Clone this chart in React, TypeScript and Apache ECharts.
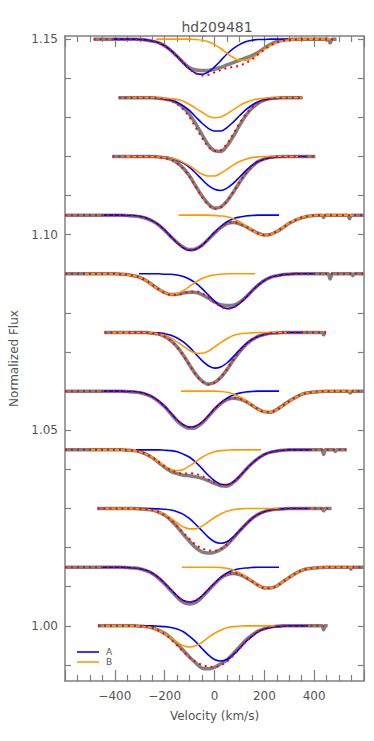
import React, { useEffect, useRef } from 'react';
import * as echarts from 'echarts';

// Velocity grid step (km/s) used by every sampled depth list below.
const STEP = 25;

// Continuum level of each stacked profile (top to bottom).
const CONTINUUM = [1.15, 1.135, 1.12, 1.105, 1.09, 1.075, 1.06, 1.045, 1.03, 1.015, 1.0];

// Velocity span of each observed spectrum and of each drawn component (km/s).
const OBS_RANGE = [[-485, 490], [-385, 353], [-410, 405], [-600, 600], [-600, 600], [-442, 448], [-600, 600], [-600, 530], [-470, 470], [-600, 600], [-468, 454]];
const A_RANGE = [[-405, 295], [-340, 353], [-330, 370], [-445, 259], [-303, 405], [-345, 355], [-445, 259], [-315, 390], [-310, 375], [-450, 259], [-300, 376]];
const B_RANGE = [[-234, 465], [-345, 353], [-365, 335], [-144, 555], [-520, 163], [-410, 290], [-135, 565], [-500, 187], [-440, 259], [-131, 565], [-450, 242]];

// Depths below the continuum, in units of 0.001 flux, sampled every STEP km/s from *_START.
const OBS_START = [-300, -225, -225, -350, -375, -250, -350, -350, -300, -350, -300];
const OBS_DEPTH = [
  [0.1, 0.2, 0.5, 0.9, 1.7, 2.9, 4.4, 6.0, 7.3, 7.9, 8.0, 8.0, 7.7, 7.2, 6.6, 6.0, 5.4, 4.8, 4.2, 3.4, 2.3, 1.3, 0.6, 0.3, 0.1],
  [0.1, 0.3, 0.6, 1.3, 2.5, 4.3, 6.7, 9.4, 12.0, 13.5, 13.7, 12.3, 9.9, 7.1, 4.6, 2.7, 1.4, 0.6, 0.2, 0.1],
  [0.1, 0.3, 0.7, 1.6, 3.0, 5.0, 7.6, 10.1, 12.1, 13.2, 12.9, 11.4, 9.2, 6.7, 4.4, 2.6, 1.3, 0.6, 0.2, 0.1],
  [0.1, 0.2, 0.4, 0.8, 1.5, 2.5, 3.9, 5.5, 7.0, 8.2, 8.8, 8.6, 7.7, 6.2, 4.6, 3.2, 2.2, 1.9, 2.2, 2.9, 3.8, 4.6, 5.1, 4.9, 4.2, 3.2, 2.1, 1.3, 0.7, 0.3, 0.1],
  [0.1, 0.2, 0.5, 0.9, 1.7, 2.8, 3.9, 4.8, 5.3, 5.2, 4.9, 4.7, 4.8, 5.3, 6.2, 7.2, 7.9, 8.1, 8.0, 7.3, 6.0, 4.4, 2.9, 1.7, 0.9, 0.5, 0.2, 0.1],
  [0.2, 0.4, 1.0, 2.1, 3.7, 5.8, 8.3, 10.7, 12.4, 13.2, 12.8, 11.5, 9.5, 7.1, 5.0, 3.2, 1.9, 1.0, 0.5, 0.2, 0.1],
  [0.1, 0.2, 0.4, 0.8, 1.5, 2.6, 4.0, 5.8, 7.6, 8.9, 9.5, 9.3, 8.2, 6.5, 4.7, 3.2, 2.2, 1.8, 2.0, 2.6, 3.6, 4.6, 5.3, 5.4, 4.7, 3.6, 2.5, 1.6, 0.8, 0.4, 0.2, 0.1],
  [0.1, 0.2, 0.5, 1.1, 2.0, 3.2, 4.5, 5.5, 6.1, 6.5, 6.6, 6.9, 7.3, 7.9, 8.6, 9.2, 9.3, 8.4, 6.9, 5.1, 3.5, 2.2, 1.2, 0.6, 0.3, 0.1],
  [0.1, 0.2, 0.4, 0.9, 1.7, 3.0, 4.7, 6.6, 8.4, 10.0, 11.1, 11.4, 11.2, 10.5, 9.3, 7.6, 5.8, 4.1, 2.6, 1.5, 0.8, 0.4, 0.2, 0.1],
  [0.1, 0.2, 0.4, 0.9, 1.6, 2.8, 4.3, 6.0, 7.7, 9.0, 9.4, 9.0, 7.7, 6.0, 4.3, 2.8, 1.9, 1.6, 1.9, 2.6, 3.6, 4.6, 5.3, 5.3, 4.8, 3.7, 2.6, 1.6, 0.8, 0.4, 0.2, 0.1],
  [0.1, 0.2, 0.5, 1.1, 1.9, 3.1, 4.6, 6.3, 8.0, 9.5, 10.8, 11.0, 10.6, 9.7, 8.7, 7.1, 5.4, 3.7, 2.4, 1.3, 0.7, 0.3, 0.1],
];
// Narrow features of the observed spectra: [velocity, depth].
const OBS_FEATURES = [
  [[456, 0], [464, 1.0], [472, 0]],
  [],
  [],
  [[431, 0], [438, 0.6], [445, 0], [535, 0], [542, 0.9], [549, 0]],
  [[456, 0], [464, 1.3], [472, 0], [549, 0], [555, 0.5], [561, 0]],
  [[432, 0], [438, 0.6], [444, 0]],
  [[539, 0], [545, 0.5], [551, 0]],
  [[431, 0], [438, 1.2], [445, 0], [479, 0], [485, 0.4], [491, 0]],
  [[432, 0], [438, 0.6], [444, 0]],
  [[542, 0], [548, 0.5], [554, 0]],
  [[431, 0], [438, 1.0], [445, 0]],
];

const A_START = [-300, -225, -225, -350, -200, -250, -350, -200, -225, -350, -225];
const A_DEPTH = [
  [0.1, 0.2, 0.5, 0.9, 1.7, 2.9, 4.4, 6.1, 7.7, 8.7, 9.0, 8.4, 7.1, 5.5, 3.8, 2.4, 1.4, 0.7, 0.3, 0.1, 0.1],
  [0.1, 0.3, 0.6, 1.2, 2.1, 3.3, 4.9, 6.5, 7.8, 8.5, 8.5, 7.6, 6.2, 4.6, 3.1, 1.9, 1.0, 0.5, 0.2, 0.1],
  [0.1, 0.2, 0.4, 0.9, 1.7, 2.8, 4.3, 5.9, 7.4, 8.4, 8.7, 8.1, 6.9, 5.3, 3.7, 2.3, 1.3, 0.7, 0.3, 0.1, 0.1],
  [0.1, 0.1, 0.3, 0.7, 1.4, 2.4, 3.8, 5.5, 7.1, 8.4, 9.0, 8.7, 7.7, 6.1, 4.4, 2.9, 1.7, 0.9, 0.5, 0.2, 0.1],
  [0.1, 0.1, 0.3, 0.7, 1.4, 2.4, 3.8, 5.4, 7.0, 8.3, 8.9, 8.6, 7.6, 6.1, 4.4, 2.9, 1.7, 0.9, 0.5, 0.2, 0.1],
  [0.1, 0.1, 0.3, 0.7, 1.4, 2.4, 3.8, 5.5, 7.2, 8.5, 9.1, 8.8, 7.8, 6.2, 4.5, 3.0, 1.8, 1.0, 0.5, 0.2, 0.1],
  [0.1, 0.1, 0.3, 0.7, 1.4, 2.5, 3.9, 5.6, 7.3, 8.6, 9.2, 8.9, 7.9, 6.3, 4.5, 3.0, 1.8, 1.0, 0.5, 0.2, 0.1],
  [0.1, 0.2, 0.5, 1.1, 1.9, 3.2, 4.8, 6.5, 7.9, 8.8, 8.9, 8.2, 6.8, 5.1, 3.5, 2.2, 1.2, 0.6, 0.3, 0.1],
  [0.1, 0.2, 0.4, 0.8, 1.5, 2.6, 4.1, 5.7, 7.3, 8.5, 8.9, 8.5, 7.3, 5.7, 4.1, 2.6, 1.5, 0.8, 0.4, 0.2, 0.1],
  [0.1, 0.2, 0.4, 0.8, 1.5, 2.6, 4.1, 5.7, 7.3, 8.5, 8.9, 8.5, 7.3, 5.7, 4.1, 2.6, 1.5, 0.8, 0.4, 0.2, 0.1],
  [0.1, 0.2, 0.4, 0.8, 1.5, 2.7, 4.1, 5.8, 7.4, 8.6, 9.0, 8.6, 7.4, 5.8, 4.1, 2.7, 1.5, 0.8, 0.4, 0.2, 0.1],
];

const B_START = [-75, -200, -225, 0, -375, -250, 25, -350, -300, 25, -300];
const B_DEPTH = [
  [0.1, 0.3, 0.7, 1.4, 2.4, 3.6, 4.7, 5.4, 5.4, 4.9, 3.8, 2.6, 1.6, 0.9, 0.4, 0.2, 0.1],
  [0.1, 0.2, 0.4, 0.9, 1.7, 2.7, 3.7, 4.7, 5.1, 4.9, 4.1, 3.1, 2.0, 1.2, 0.6, 0.3, 0.1],
  [0.1, 0.2, 0.4, 0.8, 1.5, 2.4, 3.5, 4.5, 5.0, 5.0, 4.3, 3.3, 2.2, 1.3, 0.7, 0.3, 0.1],
  [0.1, 0.2, 0.4, 0.9, 1.7, 2.7, 3.7, 4.7, 5.1, 4.9, 4.1, 3.1, 2.0, 1.2, 0.6, 0.3, 0.1],
  [0.1, 0.2, 0.5, 0.9, 1.7, 2.8, 3.9, 4.8, 5.3, 5.1, 4.3, 3.2, 2.1, 1.2, 0.6, 0.3, 0.1],
  [0.1, 0.3, 0.7, 1.4, 2.4, 3.5, 4.6, 5.3, 5.3, 4.8, 3.7, 2.6, 1.6, 0.8, 0.4, 0.2, 0.1],
  [0.1, 0.3, 0.7, 1.4, 2.4, 3.5, 4.6, 5.3, 5.3, 4.8, 3.7, 2.6, 1.6, 0.8, 0.4, 0.2, 0.1],
  [0.1, 0.2, 0.5, 1.1, 1.9, 3.0, 4.1, 5.0, 5.3, 5.0, 4.1, 3.0, 1.9, 1.1, 0.5, 0.2, 0.1],
  [0.1, 0.2, 0.4, 0.8, 1.5, 2.5, 3.7, 4.7, 5.2, 5.2, 4.5, 3.4, 2.3, 1.4, 0.7, 0.3, 0.1],
  [0.1, 0.3, 0.7, 1.4, 2.4, 3.5, 4.6, 5.3, 5.3, 4.8, 3.7, 2.6, 1.6, 0.8, 0.4, 0.2, 0.1],
  [0.1, 0.2, 0.5, 1.1, 1.9, 3.0, 4.2, 5.1, 5.4, 5.1, 4.2, 3.0, 1.9, 1.1, 0.5, 0.2, 0.1],
];

// Axis ticks and labels.
const X_LIMITS = [-600, 600];
const Y_LIMITS = [0.9859, 1.1508];
const Y_TICKS = [0.99, 1.0, 1.01, 1.02, 1.03, 1.04, 1.05, 1.06, 1.07, 1.08, 1.09, 1.1, 1.11, 1.12, 1.13, 1.14, 1.15];
const Y_LABELS = [1.0, 1.05, 1.1, 1.15];

const COLORS = { obs: '#808080', a: '#0000ff', b: '#ff9900', fit: '#ff0000', axis: '#808080', text: '#555555' };
const FONT = 'DejaVu Sans';

function depthAt(start: number, list: number[], v: number): number {
  const k = (v - start) / STEP;
  if (Number.isInteger(k) && k >= 0 && k < list.length) return list[k];
  return 0;
}

function rangeVelocities(range: number[]): number[] {
  const [from, to] = range;
  const xs = [from];
  for (let v = Math.ceil(from / STEP) * STEP; v < to; v += STEP) {
    if (v > from) xs.push(v);
  }
  xs.push(to);
  return xs;
}

function buildSeries(): any[] {
  const series: any[] = [];
  CONTINUUM.forEach((c, i) => {
    const toY = (d: number) => c - d / 1000;
    const obsMap = new Map<number, number>();
    rangeVelocities(OBS_RANGE[i]).forEach((v) => obsMap.set(v, depthAt(OBS_START[i], OBS_DEPTH[i], v)));
    OBS_FEATURES[i].forEach(([v, d]) => {
      if (v >= OBS_RANGE[i][0] && v <= OBS_RANGE[i][1]) obsMap.set(v, d);
    });
    const obs = Array.from(obsMap.entries()).sort((p, q) => p[0] - q[0]).map(([v, d]) => [v, toY(d)]);
    const a = rangeVelocities(A_RANGE[i]).map((v) => [v, toY(depthAt(A_START[i], A_DEPTH[i], v))]);
    const b = rangeVelocities(B_RANGE[i]).map((v) => [v, toY(depthAt(B_START[i], B_DEPTH[i], v))]);
    const fit = rangeVelocities(OBS_RANGE[i]).map((v) => [
      v,
      toY(depthAt(A_START[i], A_DEPTH[i], v) + depthAt(B_START[i], B_DEPTH[i], v)),
    ]);
    const base = { type: 'line', showSymbol: false, symbol: 'none', silent: true, smooth: 0.35, animation: false };
    series.push({ ...base, name: 'obs', data: obs, z: 1, lineStyle: { color: COLORS.obs, width: 3.5 } });
    series.push({ ...base, name: 'A', data: a, z: 2, lineStyle: { color: COLORS.a, width: 1.6 } });
    series.push({ ...base, name: 'B', data: b, z: 3, lineStyle: { color: COLORS.b, width: 1.6 } });
    series.push({ ...base, name: 'fit', data: fit, z: 4, lineStyle: { color: COLORS.fit, width: 2, type: [2, 4] } });
  });
  return series;
}

export default function App() {
  const ref = useRef<HTMLDivElement>(null);
  useEffect(() => {
    document.body.style.margin = '0';
    if (!ref.current) return;
    const chart = echarts.init(ref.current, undefined, { renderer: 'svg' });
    const axisLine = { show: true, onZero: false, lineStyle: { color: COLORS.axis, width: 1.5 } };
    const tickStyle = { color: COLORS.axis, width: 1.2 };
    const xBase = {
      type: 'value',
      min: X_LIMITS[0],
      max: X_LIMITS[1],
      interval: 200,
      axisLine,
      axisTick: { show: true, inside: true, length: 11, lineStyle: tickStyle },
      minorTick: { show: true, splitNumber: 4, length: 6, lineStyle: tickStyle },
      splitLine: { show: false },
      minorSplitLine: { show: false },
    };
    const yBase = {
      type: 'value',
      min: Y_LIMITS[0],
      max: Y_LIMITS[1],
      axisLine,
      axisTick: { show: true, inside: true, length: 6, lineStyle: tickStyle, customValues: Y_TICKS },
      splitLine: { show: false },
    };
    const option: any = {
      animation: false,
      title: {
        text: 'hd209481',
        left: 212,
        top: 15,
        textAlign: 'center',
        textStyle: { fontFamily: FONT, fontSize: 14, fontWeight: 'normal', color: COLORS.text },
      },
      grid: { left: 60, right: 10, top: 36, bottom: 60, containLabel: false },
      xAxis: [
        {
          ...xBase,
          position: 'bottom',
          axisLabel: {
            show: true,
            margin: 9,
            fontFamily: FONT,
            fontSize: 12,
            color: COLORS.text,
            formatter: (v: number) => (v <= X_LIMITS[0] || v >= X_LIMITS[1] ? '' : String(v).replace('-', '\u2212')),
          },
          name: 'Velocity (km/s)',
          nameLocation: 'middle',
          nameGap: 29,
          nameTextStyle: { fontFamily: FONT, fontSize: 12, color: COLORS.text },
        },
        { ...xBase, position: 'top', axisLabel: { show: false } },
      ],
      yAxis: [
        {
          ...yBase,
          position: 'left',
          axisLabel: {
            show: true,
            margin: 7,
            fontFamily: FONT,
            fontSize: 12,
            color: COLORS.text,
            customValues: Y_LABELS,
            formatter: (v: number) => v.toFixed(2),
          },
          name: 'Normalized Flux',
          nameLocation: 'middle',
          nameGap: 45,
          nameTextStyle: { fontFamily: FONT, fontSize: 12, color: COLORS.text },
        },
        { ...yBase, position: 'right', axisLabel: { show: false } },
      ],
      graphic: [
        { type: 'line', shape: { x1: 77, y1: 652, x2: 99, y2: 652 }, style: { stroke: COLORS.a, lineWidth: 1.6 } },
        { type: 'text', x: 106, y: 652, style: { text: 'A', fill: COLORS.text, fontSize: 9, fontFamily: FONT, verticalAlign: 'middle' } },
        { type: 'line', shape: { x1: 77, y1: 662, x2: 99, y2: 662 }, style: { stroke: COLORS.b, lineWidth: 1.6 } },
        { type: 'text', x: 106, y: 662, style: { text: 'B', fill: COLORS.text, fontSize: 9, fontFamily: FONT, verticalAlign: 'middle' } },
      ],
      series: buildSeries(),
    };
    chart.setOption(option);
    return () => chart.dispose();
  }, []);
  return <div ref={ref} style={{ width: 374, height: 741 }} />;
}
